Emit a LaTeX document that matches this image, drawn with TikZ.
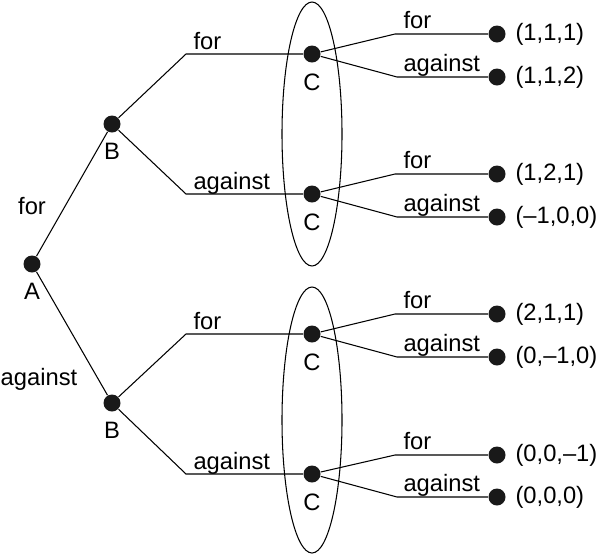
\documentclass[tikz,border=0pt]{standalone}
\usepackage{fontspec}
\setmainfont{Liberation Sans}
\usetikzlibrary{positioning,calc}
\begin{document}
\begin{tikzpicture}[x=0.2mm,y=-0.2mm,line width=0.6pt,
  dot/.style={circle,fill=black!90,inner sep=0pt,minimum size=3.4mm},
  lbl/.style={font=\fontsize{13.5}{16}\selectfont,inner sep=0pt},
  mv/.style={lbl,anchor=base west}]
\useasboundingbox (0,0) rectangle (600,553);
% Decision nodes
\node[dot] (A) at (32,264) {};
\node[dot] (B1) at (112,124) {};
\node[dot] (B2) at (112,403) {};
\node[dot] (C1) at (312,54) {};
\node[dot] (C2) at (312,194) {};
\node[dot] (C3) at (312,334) {};
\node[dot] (C4) at (312,474) {};
\node[lbl,below=2mm of A] (lA) {A};
\node[lbl,below=2mm of B1] (lB1) {B};
\node[lbl,below=2mm of B2] (lB2) {B};
\node[lbl,below=2mm of C1] (lC1) {C};
\node[lbl,below=2mm of C2] (lC2) {C};
\node[lbl,below=2mm of C3] (lC3) {C};
\node[lbl,below=2mm of C4] (lC4) {C};
% Information sets of C
\draw (312,134) ellipse [x radius=6mm, y radius=26.4mm];
\draw (312,420) ellipse [x radius=6mm, y radius=26.6mm];
% A votes
\node[lbl] (vA1) at (32,206) {for};
\node[lbl] (vA2) at (39,379) {against};
\draw (A) -- (B1);
\draw (A) -- (B2);
% B votes
\coordinate (f1) at (186,54);
\coordinate (a1) at (186,194);
\coordinate (f2) at (186,334);
\coordinate (a2) at (186,474);
\draw (B1) -- (f1) -- (C1);
\draw (B1) -- (a1) -- (C2);
\draw (B2) -- (f2) -- (C3);
\draw (B2) -- (a2) -- (C4);
\node[mv] (vf1) at ($(f1)+(7,-5)$) {for};
\node[mv] (va1) at ($(a1)+(7,-5)$) {against};
\node[mv] (vf2) at ($(f2)+(7,-5)$) {for};
\node[mv] (va2) at ($(a2)+(7,-5)$) {against};
% C votes
\coordinate (C1f) at (395,34);
\coordinate (C1a) at (397,77);
\coordinate (C2f) at (395,174);
\coordinate (C2a) at (397,217);
\coordinate (C3f) at (395,314);
\coordinate (C3a) at (397,357);
\coordinate (C4f) at (395,455);
\coordinate (C4a) at (397,497);
\node[dot] (z1) at (497,34) {};
\node[dot] (z2) at (497,77) {};
\node[dot] (z3) at (497,174) {};
\node[dot] (z4) at (497,217) {};
\node[dot] (z5) at (497,314) {};
\node[dot] (z6) at (497,357) {};
\node[dot] (z7) at (497,455) {};
\node[dot] (z8) at (497,497) {};
\draw (C1) -- (C1f) -- (z1);
\draw (C1) -- (C1a) -- (z2);
\draw (C2) -- (C2f) -- (z3);
\draw (C2) -- (C2a) -- (z4);
\draw (C3) -- (C3f) -- (z5);
\draw (C3) -- (C3a) -- (z6);
\draw (C4) -- (C4f) -- (z7);
\draw (C4) -- (C4a) -- (z8);
\node[mv] (vc1) at ($(C1f)+(8,-6)$) {for};
\node[mv] (vc2) at ($(C1a)+(6,-6)$) {against};
\node[mv] (vc3) at ($(C2f)+(8,-6)$) {for};
\node[mv] (vc4) at ($(C2a)+(6,-6)$) {against};
\node[mv] (vc5) at ($(C3f)+(8,-6)$) {for};
\node[mv] (vc6) at ($(C3a)+(6,-6)$) {against};
\node[mv] (vc7) at ($(C4f)+(8,-6)$) {for};
\node[mv] (vc8) at ($(C4a)+(6,-6)$) {against};
% Payoffs
\node[lbl,right=1.8mm of z1] (p1) {(1,1,1)};
\node[lbl,right=1.8mm of z2] (p2) {(1,1,2)};
\node[lbl,right=1.8mm of z3] (p3) {(1,2,1)};
\node[lbl,right=1.8mm of z4] (p4) {(–1,0,0)};
\node[lbl,right=1.8mm of z5] (p5) {(2,1,1)};
\node[lbl,right=1.8mm of z6] (p6) {(0,–1,0)};
\node[lbl,right=1.8mm of z7] (p7) {(0,0,–1)};
\node[lbl,right=1.8mm of z8] (p8) {(0,0,0)};
\end{tikzpicture}
\end{document}
